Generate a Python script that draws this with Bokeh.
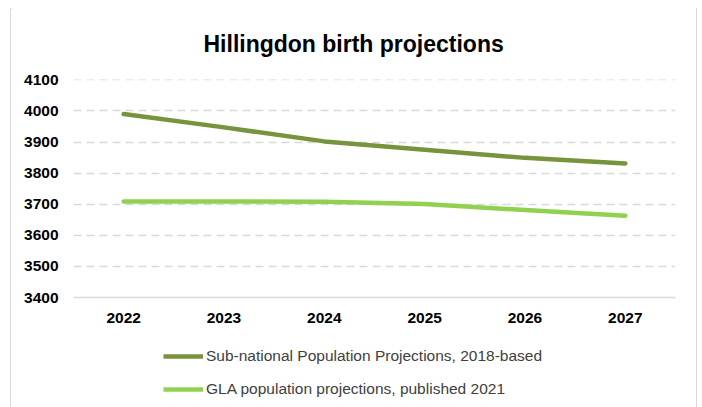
from bokeh.plotting import figure
from bokeh.layouts import column
from bokeh.models import FixedTicker, Legend, LegendItem, Range1d, FactorRange
from bokeh.embed import file_html
from bokeh.resources import INLINE

years = ["2022", "2023", "2024", "2025", "2026", "2027"]
snpp = [3990, 3947, 3902, 3875, 3849, 3831]
gla = [3709, 3709, 3708, 3701, 3681, 3663]
y_ticks = [3400, 3500, 3600, 3700, 3800, 3900, 4000, 4100]
snpp_label = "Sub-national Population Projections, 2018-based"
gla_label = "GLA population projections, published 2021"
title_text = "Hillingdon birth projections"

FONT = "Liberation Sans"
DARK = "#77933C"
LIGHT = "#92D050"

p = figure(width=685, height=335, output_backend="svg", toolbar_location=None,
           x_range=FactorRange(*years, range_padding=0),
           y_range=Range1d(3400, 4101),
           min_border_left=62, min_border_right=21, min_border_top=74, min_border_bottom=43)
p.styles = {"margin-top": "-4px"}

p.outline_line_color = None
p.background_fill_color = "white"
p.border_fill_color = "white"

# title
p.title.text = title_text
p.title.align = "left"
p.title.text_font = FONT
p.title.text_font_size = "23px"
p.title.text_font_style = "bold"
p.title.text_color = "#000000"
p.title.offset = 130
p.title.standoff = 46

# lines
p.line(years, snpp, line_color=DARK, line_width=4.5, line_cap="round", line_join="round")
p.line(years, gla, line_color=LIGHT, line_width=4.5, line_cap="round", line_join="round")

# axes
p.yaxis.ticker = FixedTicker(ticks=y_ticks)
p.yaxis.axis_line_color = None
p.yaxis.major_tick_line_color = None
p.yaxis.minor_tick_line_color = None
p.yaxis.major_tick_out = 0
p.yaxis.major_label_standoff = 15
p.yaxis.major_label_text_font = FONT
p.yaxis.major_label_text_font_size = "15.5px"
p.yaxis.major_label_text_font_style = "bold"
p.yaxis.major_label_text_color = "#000000"

p.xaxis.axis_line_color = "#D9D9D9"
p.xaxis.axis_line_width = 1.5
p.xaxis.major_tick_line_color = None
p.xaxis.minor_tick_line_color = None
p.xaxis.major_tick_out = 0
p.xaxis.major_label_standoff = 15
p.xaxis.major_label_text_font = FONT
p.xaxis.major_label_text_font_size = "15.5px"
p.xaxis.major_label_text_font_style = "bold"
p.xaxis.major_label_text_color = "#000000"

p.xgrid.grid_line_color = None
p.ygrid.ticker = FixedTicker(ticks=y_ticks)
p.ygrid.grid_line_color = "#D9D9D9"
p.ygrid.grid_line_width = 1.5
p.ygrid.grid_line_dash = "8 5"

# legend strip (same series, ranges chosen so the lines stay out of view)
lg = figure(width=685, height=67, output_backend="svg", toolbar_location=None,
            x_range=FactorRange(*years, range_padding=0), y_range=Range1d(0, 1),
            x_axis_location=None, y_axis_location=None,
            min_border_left=0, min_border_right=0, min_border_top=0, min_border_bottom=0)
lg.outline_line_color = None
lg.grid.grid_line_color = None
lg.border_fill_color = "white"
l1 = lg.line(years, snpp, line_color=DARK, line_width=4.5)
l2 = lg.line(years, gla, line_color=LIGHT, line_width=4.5)

legend = Legend(items=[LegendItem(label=snpp_label, renderers=[l1]),
                       LegendItem(label=gla_label, renderers=[l2])],
                location=(90, 8), orientation="vertical",
                glyph_width=40, glyph_height=20, label_height=20, label_standoff=3,
                spacing=13, padding=0, margin=0,
                border_line_color=None, background_fill_alpha=0,
                label_text_font=FONT, label_text_font_size="15.5px",
                label_text_color="#404040")
lg.add_layout(legend, "center")

layout = column(p, lg, spacing=0,
                styles={"border": "1px solid #D9D9D9", "border-bottom": "none",
                        "margin-left": "10px", "margin-top": "8px"})

open("out.html", "w").write(file_html(layout, INLINE))
